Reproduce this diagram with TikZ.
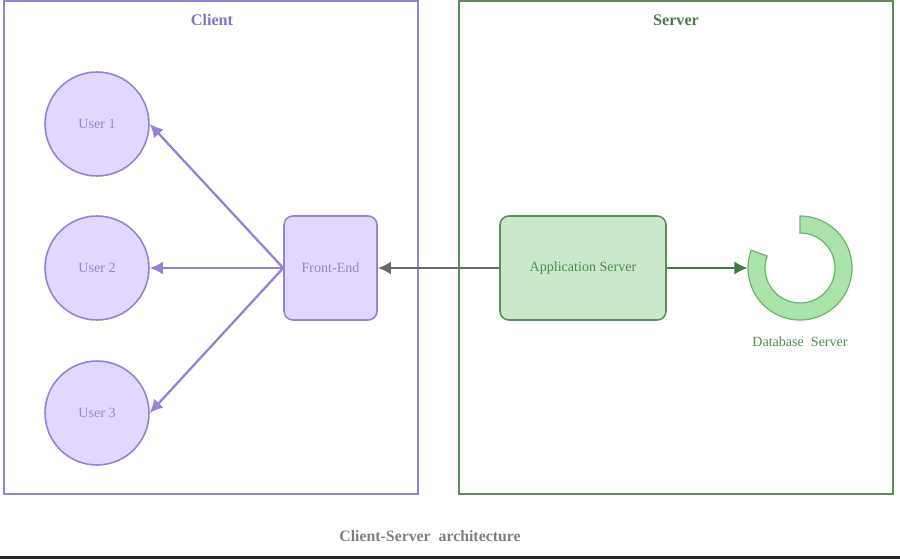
\documentclass[tikz,border=0pt]{standalone}
\usepackage{fontspec}
\setmainfont{Liberation Serif}
\usetikzlibrary{arrows.meta,positioning}

\definecolor{clientline}{RGB}{150,128,218}
\definecolor{clientfill}{RGB}{226,216,255}
\definecolor{clienttext}{RGB}{150,134,205}
\definecolor{serverline}{RGB}{92,140,92}
\definecolor{serverfill}{RGB}{202,232,202}
\definecolor{servertext}{RGB}{78,140,78}
\definecolor{ringfill}{RGB}{170,228,170}
\definecolor{ringline}{RGB}{112,180,112}
\definecolor{greyarrow}{RGB}{105,105,105}
\definecolor{greenarrow}{RGB}{62,122,70}

\begin{document}
\begin{tikzpicture}[x=0.02cm,y=0.02cm,>={Latex[length=7.5pt,width=7.5pt]},
  group/.style={draw,line width=1.1pt,minimum width=0pt},
  user/.style={circle,draw=clientline,fill=clientfill,line width=0.9pt,
    minimum size=2.08cm,inner sep=0pt,text=clienttext,font=\fontsize{8}{9}\selectfont},
  box/.style={rectangle,rounded corners=5pt,line width=0.9pt,inner sep=0pt,
    minimum height=2.08cm,font=\fontsize{8}{9}\selectfont},
  title/.style={font=\bfseries\fontsize{9.2}{11}\selectfont}]

\useasboundingbox (0,0) rectangle (900,559);

% groups
\draw[group,draw=clientline] (4,558) rectangle (418,65);
\draw[group,draw=serverline] (459,558) rectangle (893,65);
\node[title,text=clientline!90!black] (clienttitle) at (212,539) {Client};
\node[title,text=serverline!85!black] (servertitle) at (676,539) {Server};

% client side
\node[user] (u1) at (97,435) {User 1};
\node[user] (u2) at (97,291) {User 2};
\node[user] (u3) at (97,146) {User 3};
\node[box,draw=clientline,fill=clientfill,text=clienttext,minimum width=1.86cm] (fe) at (330.5,291) {Front-End};

% server side
\node[box,draw=serverline,fill=serverfill,text=servertext,minimum width=3.32cm] (app) at (583,291) {Application Server};
\node[circle,minimum size=2.08cm,inner sep=0pt] (db) at (800,291) {};
\draw[draw=ringline,fill=ringfill,line width=0.7pt]
  ([shift={(160:52)}]db.center) arc (160:450:52)
  -- ([shift={(90:35)}]db.center) arc (450:160:35) -- cycle;
\node[text=servertext,font=\fontsize{8}{9}\selectfont,below=0.2cm of db] (dblabel) {Database\ \ Server};

% connectors
\path[->,color=clientline,line width=1.3pt] (fe.west) edge (u1.east)
                                             edge (u2.east)
                                             edge (u3.east);
\draw[->,draw=greyarrow,line width=1.5pt] (app) -- (fe);
\draw[->,draw=greenarrow,line width=1.4pt] (app) -- (db);

% caption
\node[text=black!50,font=\bfseries\fontsize{9}{11}\selectfont] (caption) at (430,23) {Client-Server\ \ architecture};
\draw[line width=1.2pt,black!85] (0,1.5) -- (900,1.5);

\end{tikzpicture}
\end{document}
